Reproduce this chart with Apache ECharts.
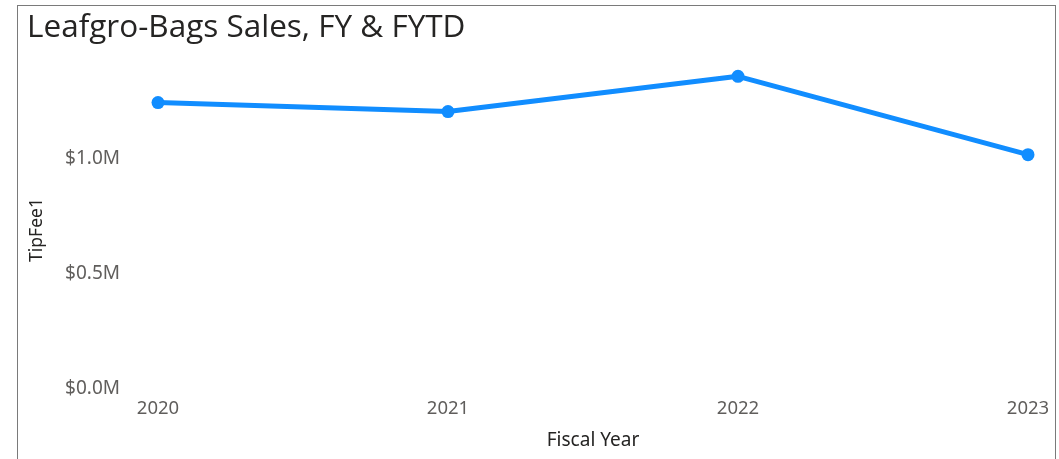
<!DOCTYPE html>
<html><head><meta charset="utf-8">
<script src="https://cdn.jsdelivr.net/npm/echarts@6/dist/echarts.min.js"></script>
<style>
html,body{margin:0;padding:0;background:#fff;}
#frame{position:absolute;left:17px;top:5px;width:1039px;height:460px;border:1.5px solid #7a7a7a;box-sizing:border-box;}
#c{position:absolute;left:0;top:0;width:1059px;height:459px;}
</style></head>
<body>
<div id="frame"></div>
<div id="c"></div>
<script>
const categories = ['2020', '2021', '2022', '2023'];
const tipFee = [1243000, 1204000, 1357000, 1017000];
const yTicks = [0, 500000, 1000000];

const chart = echarts.init(document.getElementById('c'));
chart.setOption({
  backgroundColor: 'transparent',
  title: {
    text: 'Leafgro-Bags Sales, FY & FYTD',
    left: 22, top: 7,
    textStyle: { fontFamily: 'Open Sans', fontWeight: 'normal', fontSize: 31.5, color: '#252423' }
  },
  grid: { left: 158, right: 31, top: 71, bottom: 70 },
  xAxis: {
    type: 'category', data: categories, boundaryGap: false,
    axisLine: { show: false }, axisTick: { show: false },
    axisLabel: { color: '#605e5c', fontSize: 18.5, fontFamily: 'Noto Sans', margin: 10 },
    name: 'Fiscal Year', nameLocation: 'middle', nameGap: 42,
    nameTextStyle: { color: '#252423', fontSize: 19, fontFamily: 'Noto Sans' }
  },
  yAxis: {
    type: 'value', min: 0, max: 1380000, interval: 500000,
    splitLine: { show: false }, axisLine: { show: false }, axisTick: { show: false },
    axisLabel: {
      color: '#605e5c', fontSize: 19, fontFamily: 'Noto Sans', margin: 38, showMaxLabel: false,
      formatter: v => yTicks.indexOf(v) >= 0 ? '$' + (v / 1e6).toFixed(1) + 'M' : ''
    },
    name: 'TipFee1', nameLocation: 'middle', nameGap: 112,
    nameTextStyle: { color: '#252423', fontSize: 17.5, fontFamily: 'Noto Sans' }
  },
  series: [{
    type: 'line', data: tipFee,
    lineStyle: { color: '#118DFF', width: 5 },
    itemStyle: { color: '#118DFF' },
    symbol: 'circle', symbolSize: 13, showSymbol: true
  }]
});
</script>
</body></html>
